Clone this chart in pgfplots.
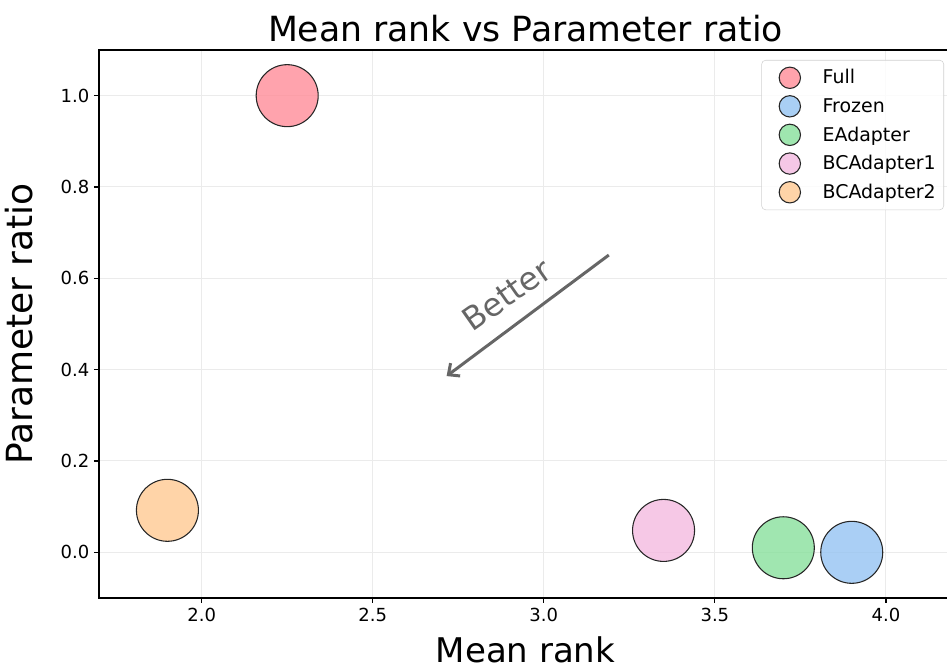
\documentclass[border=0pt]{standalone}
\usepackage{pgfplots}
\pgfplotsset{compat=1.18}
\usepackage{fontspec}
\setmainfont{DejaVu Sans}
\usetikzlibrary{arrows.meta}
\definecolor{cfull}{HTML}{FF8C98}
\definecolor{cfrozen}{HTML}{95C3F2}
\definecolor{cea}{HTML}{88E09C}
\definecolor{cbc1}{HTML}{F4BAE0}
\definecolor{cbc2}{HTML}{FFC992}
\definecolor{txtgray}{HTML}{666666}
\begin{document}
\begin{tikzpicture}
\useasboundingbox (-74.25pt,-51.75pt) rectangle (636pt,448.5pt);
\begin{axis}[
  at={(0,0)}, anchor=south west,
  scale only axis, width=639.75pt, height=411pt,
  xmin=1.7, xmax=4.193, ymin=-0.1, ymax=1.1,
  xtick={2.0,2.5,3.0,3.5,4.0},
  ytick={0.0,0.2,0.4,0.6,0.8,1.0},
  xticklabel style={/pgf/number format/.cd, fixed, fixed zerofill, precision=1, assume math mode=true},
  yticklabel style={/pgf/number format/.cd, fixed, fixed zerofill, precision=1, assume math mode=true},
  ticklabel style={font=\fontsize{13.5}{16}\selectfont},
  tick align=outside, tick pos=left,
  major tick length=3.75pt,
  tick style={black, line width=0.9pt},
  axis line style={line width=0.9pt},
  grid=major,
  major grid style={color=black!8, line width=0.75pt},
  title={Mean rank vs Parameter ratio},
  title style={at={(0.5,1)}, anchor=base, yshift=0pt, font=\fontsize{26}{31}\selectfont},
  xlabel={Mean rank},
  xlabel style={at={(0.5,0)}, anchor=base, inner sep=0pt, yshift=-48.5pt, font=\fontsize{25.5}{30}\selectfont},
  ylabel={Parameter ratio},
  ylabel style={at={(0,0.5)}, anchor=base, yshift=50pt, font=\fontsize{27}{32}\selectfont},
  legend style={at={(1,1)}, anchor=north east, xshift=-6pt, yshift=-7.5pt,
    draw=black!18, rounded corners=3pt, fill=white, fill opacity=0.8, text opacity=1,
    font=\fontsize{14.2}{17}\selectfont, row sep=5.25pt, inner xsep=4pt, inner ysep=5pt},
  legend cell align=left,
  legend image code/.code={%
    \path (0pt,0pt) (39pt,0pt);
    \draw[#1, mark size=8pt] plot coordinates {(16.75pt,0pt)};},
]
\addplot[only marks, mark=*, mark size=23.25pt, draw=black!85, fill=cfull, fill opacity=0.8, line width=0.8pt]
  coordinates {(2.25,1.0)};
\addlegendentry{Full}
\addplot[only marks, mark=*, mark size=23.25pt, draw=black!85, fill=cfrozen, fill opacity=0.8, line width=0.8pt]
  coordinates {(3.9,0.0)};
\addlegendentry{Frozen}
\addplot[only marks, mark=*, mark size=23.25pt, draw=black!85, fill=cea, fill opacity=0.8, line width=0.8pt]
  coordinates {(3.7,0.01)};
\addlegendentry{EAdapter}
\addplot[only marks, mark=*, mark size=23.25pt, draw=black!85, fill=cbc1, fill opacity=0.8, line width=0.8pt]
  coordinates {(3.35,0.048)};
\addlegendentry{BCAdapter1}
\addplot[only marks, mark=*, mark size=23.25pt, draw=black!85, fill=cbc2, fill opacity=0.8, line width=0.8pt]
  coordinates {(1.9,0.092)};
\addlegendentry{BCAdapter2}
\draw[txtgray, line width=2.25pt, -{Straight Barb[length=6.5pt, width=12pt]}] (axis cs:3.19,0.651) -- (axis cs:2.716,0.386);
\node[txtgray, rotate=35, font=\fontsize{24}{28}\selectfont] at (axis cs:2.891,0.5636) {Better};
\end{axis}
\end{tikzpicture}
\end{document}
